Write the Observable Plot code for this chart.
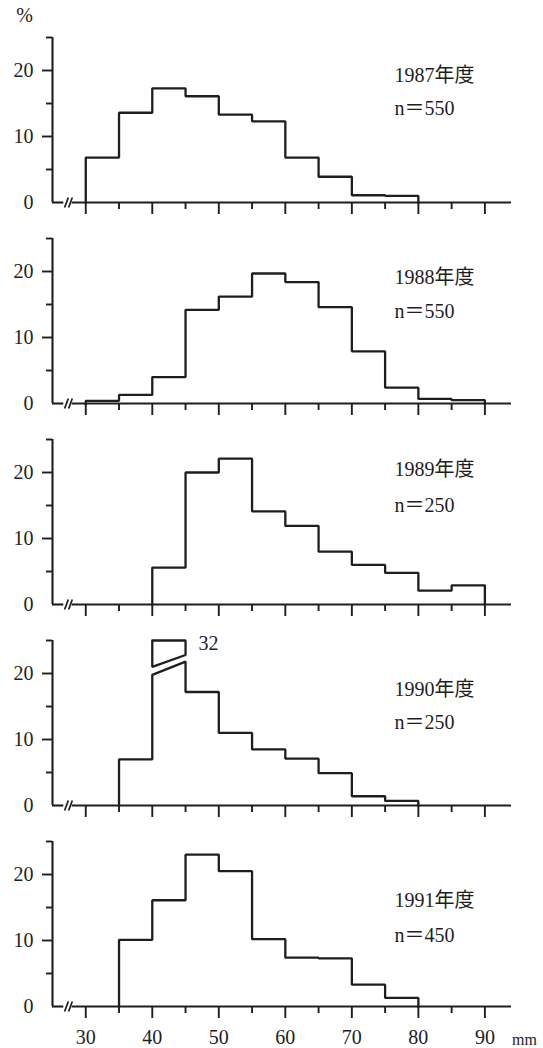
<!DOCTYPE html>
<html>
<head>
<meta charset="utf-8">
<script src="https://cdn.jsdelivr.net/npm/d3@7"></script>
<script src="https://cdn.jsdelivr.net/npm/@observablehq/plot@0.6"></script>
<style>
  html, body { margin: 0; padding: 0; background: #fff; }
  #chart svg { display: block; }
</style>
</head>
<body>
<div id="chart"></div>
<script>
// ---------------- data ----------------
const binEdges = [30, 35, 40, 45, 50, 55, 60, 65, 70, 75, 80, 85, 90];   // mm
const yearLabels = ["1987年度", "1988年度", "1989年度", "1990年度", "1991年度"];
const sampleLabels = ["n＝550", "n＝550", "n＝250", "n＝250", "n＝450"];
// % per 5 mm bin (null = no individuals)
const pct1987 = [6.8, 13.6, 17.3, 16.1, 13.3, 12.3, 6.8, 3.9, 1.1, 1.0, null, null];
const pct1988 = [0.4, 1.3, 4.0, 14.2, 16.2, 19.7, 18.4, 14.6, 7.9, 2.4, 0.7, 0.5];
const pct1989 = [null, null, 5.6, 20.0, 22.1, 14.1, 11.9, 8.0, 6.0, 4.8, 2.1, 2.9];
const pct1990 = [null, 7.0, 32, 17.2, 11.0, 8.5, 7.1, 4.9, 1.4, 0.7, null, null];
const pct1991 = [null, 10.1, 16.1, 23.0, 20.5, 10.2, 7.4, 7.3, 3.3, 1.3, null, null];
const series = [pct1987, pct1988, pct1989, pct1990, pct1991];

const yLabelTicks = [0, 10, 20];
const yMajorTickMarks = [10, 20];
const yMinorTickMarks = [5, 15, 25];
const xMajorTicks = [30, 40, 50, 60, 70, 80, 90];
const xMinorTicks = [35, 45, 55, 65, 75, 85];

// ---------------- layout / style ----------------
const W = 543;
const xDomain = [25, 94];
const yMax = 25;
const FONT = "'Liberation Serif', 'Noto Sans CJK JP', serif";
const INK = "#1e1e1e";
const LW = 2.3;
const panels = [
  {height: 216, marginTop: 37, marginBottom: 14, ly: [19.2, 14.2]},
  {height: 201, marginTop: 22, marginBottom: 14, ly: [19.1, 13.9]},
  {height: 201, marginTop: 22, marginBottom: 14, ly: [20.4, 15.0]},
  {height: 201, marginTop: 22, marginBottom: 14, ly: [17.6, 12.6]},
  {height: 229, marginTop: 22, marginBottom: 42, ly: [16.1, 10.8]}
];
const labelX = 76.4;
// axis-break glyph (x axis) and value-break glyph (bar above axis max)
const axisBreak = {a: 27.1, b: 27.7, gapL: 26.7, gapR: 27.95};
const barBreak = {lowL: 19.8, lowR: 21.8, upL: 21.0, upR: 22.8, top: 25, label: 24.6};

function outline(values) {
  const idx = values.map((v, i) => v != null ? i : -1).filter(i => i >= 0);
  const first = idx[0], last = idx[idx.length - 1];
  const pts = [{x: binEdges[first], y: 0}];
  for (let i = first; i <= last; i++) {
    const v = values[i] ?? 0;
    if (v > yMax) {
      pts.push({x: binEdges[i], y: barBreak.lowL}, {x: binEdges[i + 1], y: barBreak.lowR});
    } else {
      pts.push({x: binEdges[i], y: v}, {x: binEdges[i + 1], y: v});
    }
  }
  pts.push({x: binEdges[last + 1], y: 0});
  return pts;
}

function brokenBins(values) {
  return values.map((v, i) => ({v, i})).filter(d => d.v != null && d.v > yMax);
}

const chart = document.getElementById("chart");

series.forEach((values, k) => {
  const P = panels[k];
  const last = k === series.length - 1;
  const broken = brokenBins(values);
  const upper = broken.flatMap(d => [
    {x: binEdges[d.i], y: barBreak.top, z: d.i},
    {x: binEdges[d.i + 1], y: barBreak.top, z: d.i},
    {x: binEdges[d.i + 1], y: barBreak.upR, z: d.i},
    {x: binEdges[d.i], y: barBreak.upL, z: d.i},
    {x: binEdges[d.i], y: barBreak.top, z: d.i}
  ]);

  const marks = [
    // y axis line
    Plot.ruleX([xDomain[0]], {y1: 0, y2: yMax, stroke: INK, strokeWidth: 2.1}),
    // x axis line with break
    Plot.ruleY([0], {x1: xDomain[0], x2: axisBreak.gapL, stroke: INK, strokeWidth: 2.1}),
    Plot.ruleY([0], {x1: axisBreak.gapR, x2: xDomain[1], stroke: INK, strokeWidth: 2.1}),
    Plot.link([axisBreak.a, axisBreak.b], {
      x1: d => d - 0.28, x2: d => d + 0.28, y1: -0.75, y2: 0.75,
      stroke: INK, strokeWidth: 1.7
    }),
    // y ticks and labels
    Plot.axisY({ticks: yMajorTickMarks, tickSize: 10, tickFormat: () => "", label: null, stroke: INK, strokeWidth: 1.9}),
    Plot.axisY({ticks: yMinorTickMarks, tickSize: 6, tickFormat: () => "", label: null, stroke: INK, strokeWidth: 1.9}),
    Plot.axisY({ticks: yLabelTicks, tickSize: 0, tickPadding: 19, label: null, fill: INK}),
    // x ticks
    Plot.axisX({ticks: xMajorTicks, tickSize: 12, tickFormat: () => "", label: null, stroke: INK, strokeWidth: 1.9}),
    Plot.axisX({ticks: xMinorTicks, tickSize: 7, tickFormat: () => "", label: null, stroke: INK, strokeWidth: 1.9}),
    // histogram outline
    Plot.line(outline(values), {x: "x", y: "y", stroke: INK, strokeWidth: LW, strokeLinejoin: "miter", strokeLinecap: "square"}),
    // labels
    Plot.text([yearLabels[k]], {x: labelX, y: P.ly[0], textAnchor: "start", fill: INK}),
    Plot.text([sampleLabels[k]], {x: labelX, y: P.ly[1], textAnchor: "start", fill: INK})
  ];

  if (broken.length) {
    marks.push(
      Plot.line(upper, {x: "x", y: "y", z: "z", stroke: INK, strokeWidth: LW, strokeLinejoin: "miter"}),
      Plot.text(broken, {x: d => binEdges[d.i + 1], y: barBreak.label, text: d => String(d.v), dx: 13, textAnchor: "start", fill: INK})
    );
  }
  if (k === 0) {
    marks.push(Plot.text(["%"], {frameAnchor: "top-left", dx: -28, dy: -22, textAnchor: "middle", lineAnchor: "middle", fill: INK}));
  }
  if (last) {
    marks.push(
      Plot.axisX({ticks: xMajorTicks, tickSize: 0, tickPadding: 23, label: null, fill: INK}),
      Plot.text(["mm"], {frameAnchor: "bottom-right", dx: 13, dy: 33, textAnchor: "middle", lineAnchor: "middle", fontSize: 16, fill: INK})
    );
  }

  const svg = Plot.plot({
    width: W,
    height: P.height,
    marginLeft: 52,
    marginRight: 32,
    marginTop: P.marginTop,
    marginBottom: P.marginBottom,
    x: {type: "linear", domain: xDomain, axis: null},
    y: {type: "linear", domain: [0, yMax], axis: null},
    style: {fontFamily: FONT, fontSize: "20px", color: INK, background: "#fff", overflow: "visible"},
    marks
  });
  chart.appendChild(svg);
});
</script>
</body>
</html>
